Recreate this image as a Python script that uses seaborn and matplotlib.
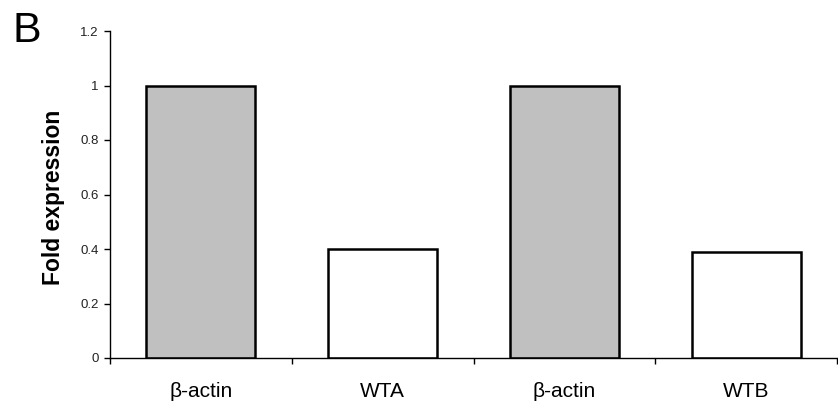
import matplotlib
matplotlib.use("Agg")
import matplotlib.pyplot as plt
import numpy as np
import pandas as pd
import seaborn as sns

categories = ["β-actin", "WTA", "β-actin", "WTB"]
fold_expression = [1.0, 0.40, 1.0, 0.39]
bar_colors = ["#c0c0c0", "#ffffff", "#c0c0c0", "#ffffff"]
y_ticks = [0, 0.2, 0.4, 0.6, 0.8, 1, 1.2]

sns.set_style("white")
plt.rcParams['font.family'] = ['Liberation Sans', 'DejaVu Sans']
plt.rcParams['text.color'] = 'black'
plt.rcParams['axes.labelcolor'] = 'black'
plt.rcParams['xtick.color'] = 'black'
plt.rcParams['ytick.color'] = 'black'

df = pd.DataFrame({'pos': [str(i) for i in range(len(categories))],
                   'value': fold_expression})

fig = plt.figure(figsize=(8.38, 4.05), dpi=100)
ax = fig.add_axes([110 / 838, 1 - 358 / 405, 1 - 110 / 838 - 0.001, (358 - 31) / 405])

sns.barplot(data=df, x='pos', y='value', hue='pos', palette=bar_colors,
            legend=False, width=0.6, edgecolor='black', linewidth=1.8,
            saturation=1, ax=ax)

ax.set_ylim(0, 1.2)
ax.set_xlim(-0.5, len(categories) - 0.5)
ax.set_yticks(y_ticks)
ax.set_yticklabels([f"{t:g}" for t in y_ticks], fontsize=9.5, color='#222222')
ax.set_xticks(range(len(categories)))
ax.set_xticklabels(categories, fontsize=15)
ax.set_xticks(np.arange(-0.5, len(categories), 1.0), minor=True)
ax.tick_params(axis='x', which='major', bottom=True, length=0, pad=17)
ax.tick_params(axis='x', which='minor', bottom=True, length=4, width=1, direction='out')
ax.tick_params(axis='y', left=True, length=4, width=1, direction='out', pad=4)
ax.set_xlabel("")
ax.set_ylabel("Fold expression", fontsize=16.5, fontweight='bold')
ax.yaxis.set_label_coords(-45 / 728, 0.49)

for side in ['top', 'right']:
    ax.spines[side].set_visible(False)
for side in ['left', 'bottom']:
    ax.spines[side].set_color('black')
    ax.spines[side].set_linewidth(1)

fig.text(12 / 838, 1 - 31 / 405, "B", fontsize=31, va='center', ha='left')

fig.savefig("out.png", dpi=100)
